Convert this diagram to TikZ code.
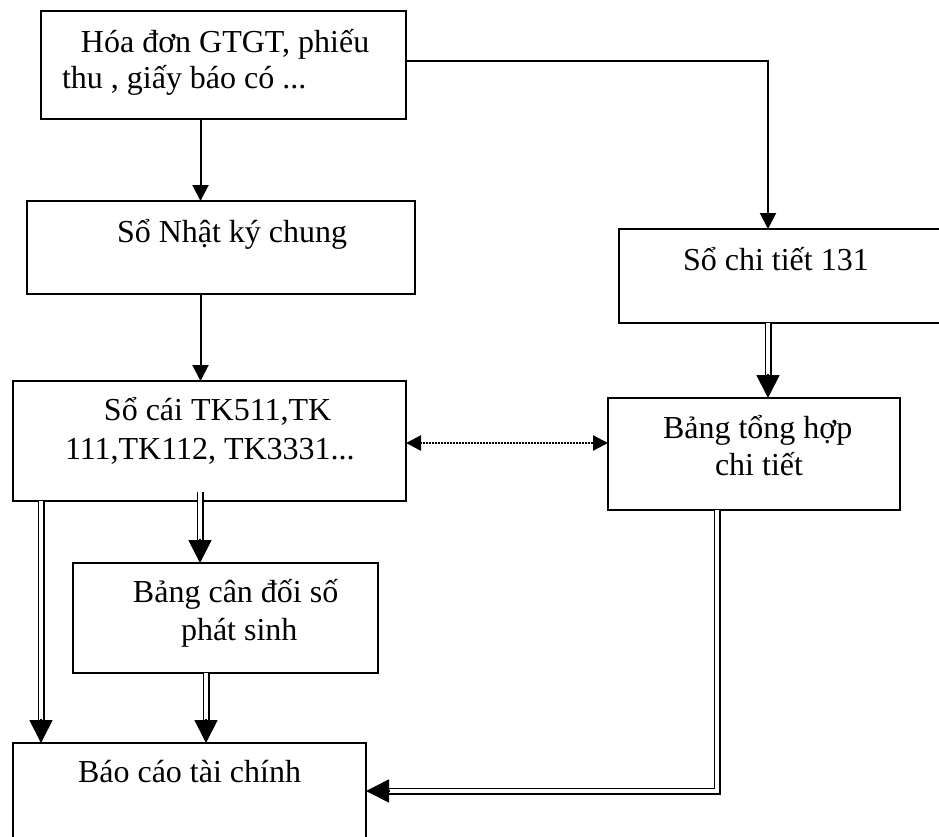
\documentclass[tikz,border=0pt]{standalone}
\usepackage{fontspec}
\setmainfont{Liberation Serif}
\usetikzlibrary{arrows.meta,calc}
\begin{document}
\begin{tikzpicture}[x=0.5pt,y=-0.5pt,
  box/.style={draw, line width=0.9pt, anchor=north west, inner sep=0pt, outer sep=0pt},
  txt/.style={anchor=base west, inner sep=0pt, outer sep=0pt, font=\fontsize{16}{18}\selectfont},
  sarr/.style={line width=1pt, -{Triangle[length=8pt,width=8pt]}},
  dline/.style={line width=0.85pt, double=white, double distance=1.8pt, shorten >=11.3pt},
  dtip/.style={line width=0.85pt, -{Triangle[length=11.5pt,width=11.5pt]}},
  dotarr/.style={line width=1.2pt, dash pattern=on 0.75pt off 0.75pt,
    {Triangle[length=7.5pt,width=7.5pt]}-{Triangle[length=7.5pt,width=7.5pt]}}
]
\useasboundingbox (0,0) rectangle (939,837);
\fill[white] (0,0) rectangle (939,837);
\clip (0,0) rectangle (939,837);

% boxes
\node[box, minimum width=182.5pt, minimum height=54pt] (b1) at (41,11) {};
\node[box, minimum width=194pt, minimum height=46.5pt] (b2) at (27,201) {};
\node[box, minimum width=196.5pt, minimum height=60pt] (b3) at (13,381) {};
\node[box, minimum width=175pt, minimum height=47pt] (b4) at (619,229) {};
\node[box, minimum width=146pt, minimum height=56pt] (b5) at (608,398) {};
\node[box, minimum width=152.5pt, minimum height=55pt] (b7) at (73,563) {};
\node[box, minimum width=176.5pt, minimum height=65pt] (b6) at (13,743) {};

% texts
\node[txt] (t1a) at (81,52) {Hóa đơn GTGT, phiếu};
\node[txt] (t1b) at (62,88) {thu , giấy báo có ...};
\node[txt] (t2) at (117,242) {Sổ Nhật ký chung};
\node[txt] (t3a) at (104,420) {Sổ cái TK511,TK};
\node[txt] (t3b) at (65,459) {111,TK112, TK3331...};
\node[txt] (t4) at (683,270) {Sổ chi tiết 131};
\node[txt] (t5a) at (663,438) {Bảng tổng hợp};
\node[txt] (t5b) at (715,475) {chi tiết};
\node[txt] (t7a) at (133,602) {Bảng cân đối số};
\node[txt] (t7b) at (181,640) {phát sinh};
\node[txt] (t6) at (78,782) {Báo cáo tài chính};

% helper coordinates
\coordinate (c200) at (200.5,0);
\coordinate (c61) at (0,61);
\coordinate (c768) at (768,0);
\coordinate (c443) at (0,443);
\coordinate (c41) at (41,0);
\coordinate (s7) at (200,492);
\coordinate (c206) at (206,0);
\coordinate (j) at (717,791);

% single arrows
\draw[sarr] (b1.south -| c200) -- (b2.north -| c200);
\draw[sarr] (b2.south -| c200) -- (b3.north -| c200);
\draw[sarr] (b1.east |- c61) -| (b4.north -| c768);

% dotted double-headed arrow
\draw[dotarr] (b3.east |- c443) -- (b5.west |- c443);

% double arrows
\draw[dline] (b4.south -| c768) -- (b5.north -| c768);
\draw[dtip] ($(b5.north -| c768)+(0,-24)$) -- (b5.north -| c768);

\draw[dline] (b3.south -| c41) -- (b6.north -| c41);
\draw[dtip] ($(b6.north -| c41)+(0,-24)$) -- (b6.north -| c41);

\draw[dline] (s7) -- (b7.north -| s7);
\draw[dtip] ($(b7.north -| s7)+(0,-24)$) -- (b7.north -| s7);

\draw[dline] (b7.south -| c206) -- (b6.north -| c206);
\draw[dtip] ($(b6.north -| c206)+(0,-24)$) -- (b6.north -| c206);

\draw[dline] (b5.south -| j) |- (b6.east |- j);
\draw[dtip] ($(b6.east |- j)+(24,0)$) -- (b6.east |- j);
\end{tikzpicture}
\end{document}
